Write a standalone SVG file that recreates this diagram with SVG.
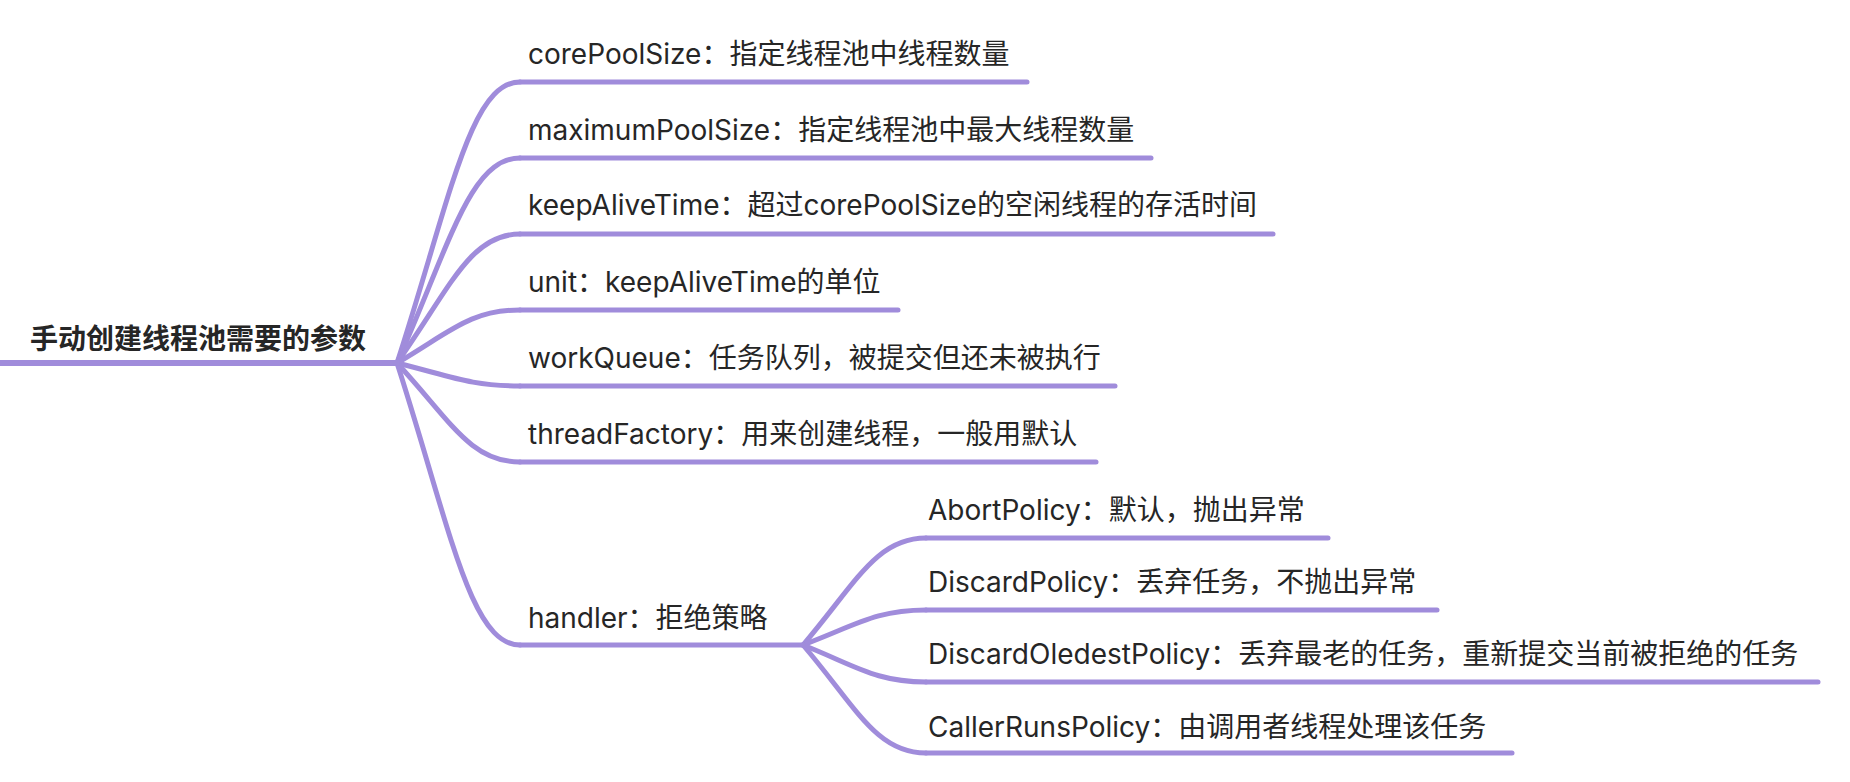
<svg xmlns="http://www.w3.org/2000/svg" width="1850" height="782" viewBox="0 0 1850 782">
<style>
.ln{fill:none;stroke:#A08CDB;stroke-width:5;stroke-linecap:round;stroke-linejoin:round}
.root-ln{stroke-width:6}
.t{font-family:Inter,"Noto Sans CJK SC",sans-serif;font-size:28px;fill:#262626}
.rt{font-family:"Noto Sans CJK SC",sans-serif;font-size:28px;font-weight:bold;fill:#262626}
</style>
<rect width="1850" height="782" fill="#ffffff"/>
<g id="connectors">
<path class="ln" d="M397,363 C450,200 470,82 520,82"/>
<path class="ln" d="M397,363 C450,244 470,158 520,158"/>
<path class="ln" d="M397,363 C450,288 470,234 520,234"/>
<path class="ln" d="M397,363 C450,332 470,310 520,310"/>
<path class="ln" d="M397,363 C450,376 470,386 520,386"/>
<path class="ln" d="M397,363 C450,420 470,462 520,462"/>
<path class="ln" d="M397,363 C450,527 470,645 520,645"/>
<path class="ln" d="M803,645 C856,583 876,538 926,538"/>
<path class="ln" d="M803,645 C856,625 876,610 926,610"/>
<path class="ln" d="M803,645 C856,666 876,682 926,682"/>
<path class="ln" d="M803,645 C856,707 876,753 926,753"/>
</g>
<g id="root">
<line class="ln root-ln" x1="0" y1="363" x2="397" y2="363"/>
<text class="rt" x="30" y="349">手动创建线程池需要的参数</text>
</g>
<g id="n-corePoolSize">
<line class="ln" x1="520" y1="82" x2="1027" y2="82"/>
<text class="t" x="528" y="64">corePoolSize：指定线程池中线程数量</text>
</g>
<g id="n-maximumPoolSize">
<line class="ln" x1="520" y1="158" x2="1151" y2="158"/>
<text class="t" x="528" y="140">maximumPoolSize：指定线程池中最大线程数量</text>
</g>
<g id="n-keepAliveTime">
<line class="ln" x1="520" y1="234" x2="1273" y2="234"/>
<text class="t" x="528" y="215">keepAliveTime：超过corePoolSize的空闲线程的存活时间</text>
</g>
<g id="n-unit">
<line class="ln" x1="520" y1="310" x2="898" y2="310"/>
<text class="t" x="528" y="292">unit：keepAliveTime的单位</text>
</g>
<g id="n-workQueue">
<line class="ln" x1="520" y1="386" x2="1115" y2="386"/>
<text class="t" x="528" y="368">workQueue：任务队列，被提交但还未被执行</text>
</g>
<g id="n-threadFactory">
<line class="ln" x1="520" y1="462" x2="1096" y2="462"/>
<text class="t" x="528" y="444">threadFactory：用来创建线程，一般用默认</text>
</g>
<g id="n-handler">
<line class="ln" x1="520" y1="645" x2="803" y2="645"/>
<text class="t" x="528" y="628">handler：拒绝策略</text>
</g>
<g id="n-AbortPolicy">
<line class="ln" x1="926" y1="538" x2="1328" y2="538"/>
<text class="t" x="928" y="520">AbortPolicy：默认，抛出异常</text>
</g>
<g id="n-DiscardPolicy">
<line class="ln" x1="926" y1="610" x2="1437" y2="610"/>
<text class="t" x="928" y="592">DiscardPolicy：丢弃任务，不抛出异常</text>
</g>
<g id="n-DiscardOledestPolicy">
<line class="ln" x1="926" y1="682" x2="1818" y2="682"/>
<text class="t" x="928" y="664">DiscardOledestPolicy：丢弃最老的任务，重新提交当前被拒绝的任务</text>
</g>
<g id="n-CallerRunsPolicy">
<line class="ln" x1="926" y1="753" x2="1512" y2="753"/>
<text class="t" x="928" y="737">CallerRunsPolicy：由调用者线程处理该任务</text>
</g>
</svg>
